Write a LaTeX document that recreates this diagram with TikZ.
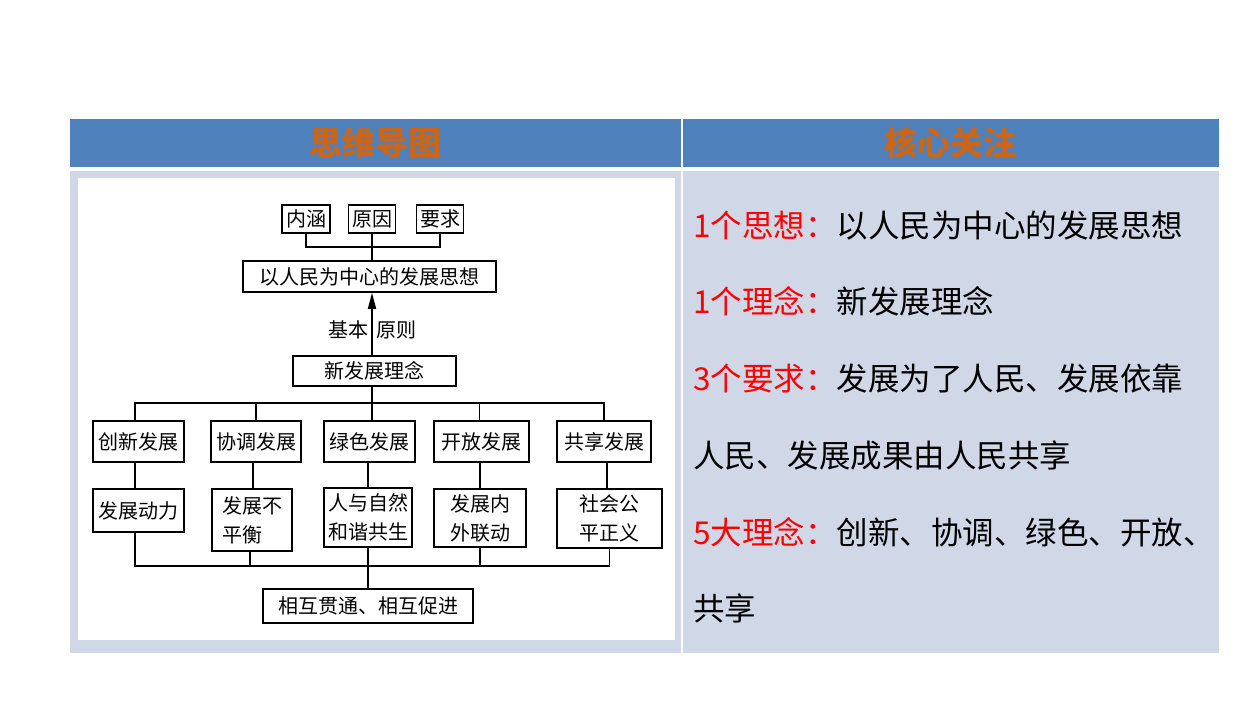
\documentclass[tikz,border=0pt]{standalone}
\usepackage{fontspec}
\newfontfamily\cjk{Noto Sans CJK SC}
\usetikzlibrary{arrows.meta}
\definecolor{hdr}{RGB}{79,129,189}
\definecolor{bodyc}{RGB}{208,216,232}
\definecolor{hdrtxt}{RGB}{204,102,22}
\definecolor{redt}{RGB}{255,0,0}
\begin{document}
\begin{tikzpicture}[x=1pt,y=-1pt,
  box/.style={draw=black, line width=1.6pt, fill=white, inner sep=0pt, font=\cjk\fontsize{20}{29}\selectfont, align=center},
  ln/.style={line width=1.6pt},
  rt/.style={anchor=base west, inner sep=0pt, font=\cjk\fontsize{31.5}{31.5}\selectfont},
  ht/.style={inner sep=0pt, text=hdrtxt, font=\cjk\bfseries\fontsize{33}{33}\selectfont}]
\useasboundingbox (0,0) rectangle (1258,720);
\fill[white] (0,0) rectangle (1258,720);
\fill[hdr] (70,119) rectangle (681,167);
\fill[hdr] (683,119) rectangle (1219,167);
\fill[bodyc] (70,171) rectangle (681,653);
\fill[bodyc] (683,171) rectangle (1219,653);
\fill[white] (78,178) rectangle (675,640);
\node[ht] (h1) at (375,143) {思维导图};
\node[ht] (h2) at (950,143) {核心关注};
% top
\node[box, minimum width=48, minimum height=28] (nh) at (306,219) {内涵};
\node[box, minimum width=47, minimum height=28] (yy) at (372,219) {原因};
\node[box, minimum width=47, minimum height=28] (yq) at (440,219) {要求};
\node[box, minimum width=253, minimum height=31] (ctr) at (369.5,276.5) {以人民为中心的发展思想};
\node[box, minimum width=163, minimum height=30] (xf) at (374.5,371) {新发展理念};
\coordinate (b1) at (372,247);
\draw[ln] (nh.south) |- (b1) -| (yq.south);
\draw[ln] (yy.south) -- (yy.south |- ctr.north);
\draw[line width=1.6pt, -{Stealth[length=16pt,width=8pt,inset=0pt]}] (xf.north -| 372,0) -- (ctr.south -| 372,0);
\node[inner sep=0pt, anchor=east, font=\cjk\fontsize{20}{20}\selectfont] (jb) at (369,330) {基本};
\node[inner sep=0pt, anchor=west, font=\cjk\fontsize{20}{20}\selectfont] (yz) at (376,330) {原则};
% row 2
\node[box, minimum width=91, minimum height=41] (cx) at (138.5,441.5) {创新发展};
\node[box, minimum width=90, minimum height=41] (xt) at (256,441.5) {协调发展};
\node[box, minimum width=91, minimum height=41] (ls) at (369.5,441.5) {绿色发展};
\node[box, minimum width=95, minimum height=41] (kf) at (481.5,441.5) {开放发展};
\node[box, minimum width=94, minimum height=41] (gx) at (604,441.5) {共享发展};
\coordinate (t2) at (372,403);
\draw[ln] (xf.south -| t2) -- (t2);
\draw[ln] ([xshift=-3.5pt]cx.north) |- (t2) -| (gx.north);
\draw[ln] (xt.north) -- (xt.north |- t2);
\draw[ln] (ls.north -| t2) -- (t2);
\draw[ln] ([xshift=-2pt]kf.north) -- ([xshift=-2pt]kf.north |- t2);
% row 3
\node[box, minimum width=91, minimum height=43] (dl) at (138.5,510.5) {发展动力};
\node[box, minimum width=80, minimum height=62, align=left] (bph) at (252,520) {发展不\\平衡};
\node[box, minimum width=88, minimum height=59] (rz) at (368,517.5) {人与自然\\和谐共生};
\node[box, minimum width=92, minimum height=58] (nw) at (480,518) {发展内\\外联动};
\node[box, minimum width=105, minimum height=59] (sh) at (609.5,518.5) {社会公\\平正义};
\draw[ln] ([xshift=-3.5pt]cx.south) -- ([xshift=-3.5pt]cx.south |- dl.north);
\draw[ln] ([xshift=-3pt]xt.south) -- ([xshift=-3pt]xt.south |- bph.north);
\draw[ln] ([xshift=-1.5pt]ls.south) -- ([xshift=-1.5pt]ls.south |- rz.north);
\draw[ln] ([xshift=-1.5pt]kf.south) -- ([xshift=-1.5pt]kf.south |- nw.north);
\draw[ln] ([xshift=3pt]gx.south) -- ([xshift=3pt]gx.south |- sh.north);
% bottom
\node[box, minimum width=210, minimum height=34] (hx) at (368,606) {相互贯通、相互促进};
\coordinate (t3) at (368,566);
\draw[ln] ([xshift=-3.5pt]dl.south) |- (t3) -| (sh.south);
\draw[ln] ([xshift=-2pt]bph.south) -- ([xshift=-2pt]bph.south |- t3);
\draw[ln] (rz.south) -- (hx.north);
\draw[ln] (nw.south) -- (nw.south |- t3);
% right text
\node[rt] (r1) at (693,237) {\textcolor{redt}{1个思想：}以人民为中心的发展思想};
\node[rt] (r2) at (693,313) {\textcolor{redt}{1个理念：}新发展理念};
\node[rt] (r3) at (693,390) {\textcolor{redt}{3个要求：}发展为了人民、发展依靠};
\node[rt] (r4) at (693,467) {人民、发展成果由人民共享};
\node[rt] (r5) at (693,544) {\textcolor{redt}{5大理念：}创新、协调、绿色、开放、};
\node[rt] (r6) at (693,620) {共享};
\end{tikzpicture}
\end{document}
